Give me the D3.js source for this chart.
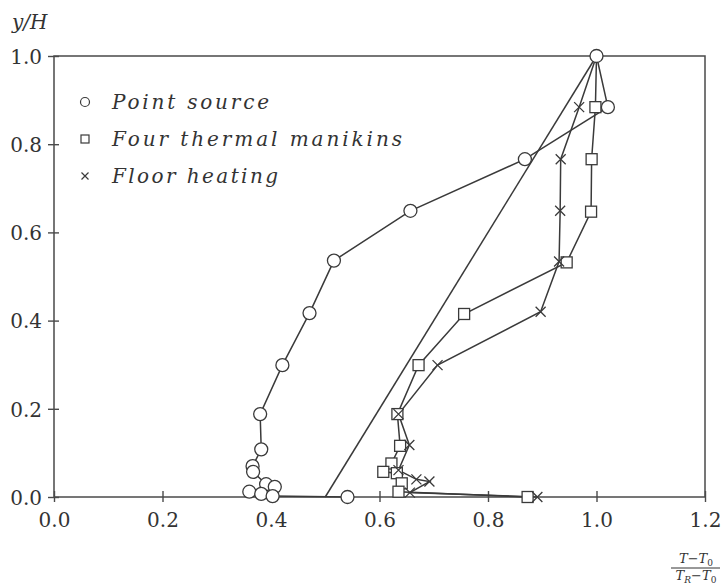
<!DOCTYPE html>
<html>
<head>
<meta charset="utf-8">
<script src="https://cdn.jsdelivr.net/npm/d3@7/dist/d3.min.js"></script>
<style>
  html, body { margin: 0; padding: 0; background: #fff; }
  svg { display: block; }
</style>
</head>
<body>
<svg id="chart" width="725" height="584"></svg>
<script>
// Temperature gradient profiles: dimensionless height vs dimensionless temperature
const xTicks = [0.0, 0.2, 0.4, 0.6, 0.8, 1.0, 1.2];
const yTicks = [0.0, 0.2, 0.4, 0.6, 0.8, 1.0];

const pointSourceX = [1.0, 1.021, 0.868, 0.657, 0.516, 0.471, 0.421, 0.380, 0.382, 0.366, 0.367, 0.391, 0.407, 0.360, 0.382, 0.403, 0.541];
const pointSourceY = [1.0, 0.884, 0.766, 0.649, 0.536, 0.417, 0.299, 0.188, 0.108, 0.070, 0.057, 0.029, 0.023, 0.012, 0.007, 0.002, 0.0];

const manikinsX = [1.0, 0.998, 0.991, 0.990, 0.945, 0.756, 0.672, 0.633, 0.638, 0.622, 0.607, 0.632, 0.641, 0.635, 0.873];
const manikinsY = [1.0, 0.884, 0.766, 0.647, 0.532, 0.415, 0.299, 0.188, 0.116, 0.076, 0.057, 0.054, 0.031, 0.012, 0.0];

const floorX = [1.0, 0.968, 0.934, 0.933, 0.931, 0.897, 0.707, 0.635, 0.655, 0.635, 0.668, 0.692, 0.656, 0.891];
const floorY = [1.0, 0.884, 0.766, 0.649, 0.534, 0.420, 0.299, 0.188, 0.118, 0.061, 0.040, 0.035, 0.010, 0.0];

// Linear reference profile
const linearX = [0.5, 1.0];
const linearY = [0.0, 1.0];

const legendLabels = ["Point source", "Four thermal manikins", "Floor heating"];

const ink = "#3a3a3a";
const svg = d3.select("#chart");

const x = d3.scaleLinear().domain([0, 1.2]).range([54, 705]);
const y = d3.scaleLinear().domain([0, 1]).range([497, 56]);

const zip = (xs, ys) => xs.map((v, i) => [v, ys[i]]);
const line = d3.line().x(d => x(d[0])).y(d => y(d[1]));

// Frame
const frame = svg.append("g").attr("stroke", "#4a4a4a").attr("stroke-width", 1.5).attr("fill", "none");
frame.append("rect")
  .attr("x", x(0)).attr("y", y(1))
  .attr("width", x(1.2) - x(0)).attr("height", y(0) - y(1));

// Axes with ticks crossing the frame line
const xAxis = d3.axisBottom(x).tickValues(xTicks).tickSize(0).tickFormat(d3.format(".1f"));
const yAxis = d3.axisLeft(y).tickValues(yTicks).tickSize(0).tickFormat(d3.format(".1f"));

const gx = svg.append("g").attr("transform", `translate(0,${y(0)})`).call(xAxis);
gx.select(".domain").remove();
gx.selectAll(".tick line").attr("y1", -6).attr("y2", 5).attr("stroke", "#4a4a4a").attr("stroke-width", 1.4);
gx.selectAll(".tick text")
  .attr("y", 30).attr("dy", 0)
  .attr("fill", "#333")
  .style("font-family", "'DejaVu Serif', serif")
  .style("font-size", "20px");

const gy = svg.append("g").attr("transform", `translate(${x(0)},0)`).call(yAxis);
gy.select(".domain").remove();
gy.selectAll(".tick line").attr("x1", -6).attr("x2", 5).attr("stroke", "#4a4a4a").attr("stroke-width", 1.4);
gy.selectAll(".tick text")
  .attr("x", -12).attr("dy", "0.36em")
  .attr("fill", "#333")
  .style("font-family", "'DejaVu Serif', serif")
  .style("font-size", "20px");

// Y axis title
svg.append("text")
  .attr("x", 12).attr("y", 29)
  .attr("fill", "#333")
  .style("font-family", "'DejaVu Serif', serif")
  .style("font-style", "italic")
  .style("font-size", "20px")
  .text("y/H");

// X axis title as a fraction
const frac = svg.append("g")
  .attr("fill", "#333")
  .style("font-family", "'DejaVu Serif', serif")
  .style("font-style", "italic")
  .style("font-size", "13px");
const num = frac.append("text").attr("x", 696).attr("y", 563).attr("text-anchor", "middle");
num.append("tspan").text("T\u2212T");
num.append("tspan").attr("dy", 3).style("font-size", "9px").style("font-style", "normal").text("0");
frac.append("line").attr("x1", 671).attr("x2", 720).attr("y1", 568).attr("y2", 568)
  .attr("stroke", "#333").attr("stroke-width", 1);
const den = frac.append("text").attr("x", 696).attr("y", 580).attr("text-anchor", "middle");
den.append("tspan").text("T");
den.append("tspan").attr("dy", 3).style("font-size", "9px").text("R");
den.append("tspan").attr("dy", -3).text("\u2212T");
den.append("tspan").attr("dy", 3).style("font-size", "9px").style("font-style", "normal").text("0");

// Data lines
const lines = svg.append("g").attr("fill", "none").attr("stroke", ink).attr("stroke-width", 1.5);
lines.append("path").attr("d", line(zip(linearX, linearY)));
lines.append("path").attr("d", line(zip(pointSourceX, pointSourceY)));
lines.append("path").attr("d", line(zip(manikinsX, manikinsY)));
lines.append("path").attr("d", line(zip(floorX, floorY)));

// Markers
const marks = svg.append("g").attr("stroke", ink).attr("stroke-width", 1.3).attr("fill", "#fff");

marks.selectAll("rect.m").data(zip(manikinsX, manikinsY).slice(1)).join("rect")
  .attr("class", "m")
  .attr("x", d => x(d[0]) - 5.5).attr("y", d => y(d[1]) - 5.5)
  .attr("width", 11).attr("height", 11);

const cross = (s) => `M${-s},${-s}L${s},${s}M${-s},${s}L${s},${-s}`;
marks.selectAll("path.f").data(zip(floorX, floorY).slice(1)).join("path")
  .attr("class", "f")
  .attr("fill", "none")
  .attr("transform", d => `translate(${x(d[0])},${y(d[1])})`)
  .attr("d", cross(5));

marks.selectAll("circle.p").data(zip(pointSourceX, pointSourceY)).join("circle")
  .attr("class", "p")
  .attr("cx", d => x(d[0])).attr("cy", d => y(d[1]))
  .attr("r", 6.5);

// Legend
const legend = svg.append("g");
const rowY = [102, 139, 176];
const textLen = [157, 290, 166];
legend.append("circle").attr("cx", 85).attr("cy", rowY[0]).attr("r", 4.5)
  .attr("fill", "#fff").attr("stroke", ink).attr("stroke-width", 1.2);
legend.append("rect").attr("x", 81).attr("y", rowY[1] - 4).attr("width", 8).attr("height", 8)
  .attr("fill", "#fff").attr("stroke", ink).attr("stroke-width", 1.2);
legend.append("path").attr("transform", `translate(85,${rowY[2]})`).attr("d", cross(3.5))
  .attr("fill", "none").attr("stroke", ink).attr("stroke-width", 1.2);
legend.selectAll("text").data(legendLabels).join("text")
  .attr("x", 112)
  .attr("y", (d, i) => rowY[i] + 7)
  .attr("textLength", (d, i) => textLen[i])
  .attr("lengthAdjust", "spacing")
  .attr("fill", "#333")
  .style("font-family", "'DejaVu Serif', serif")
  .style("font-style", "italic")
  .style("font-size", "20px")
  .text(d => d);
</script>
</body>
</html>
